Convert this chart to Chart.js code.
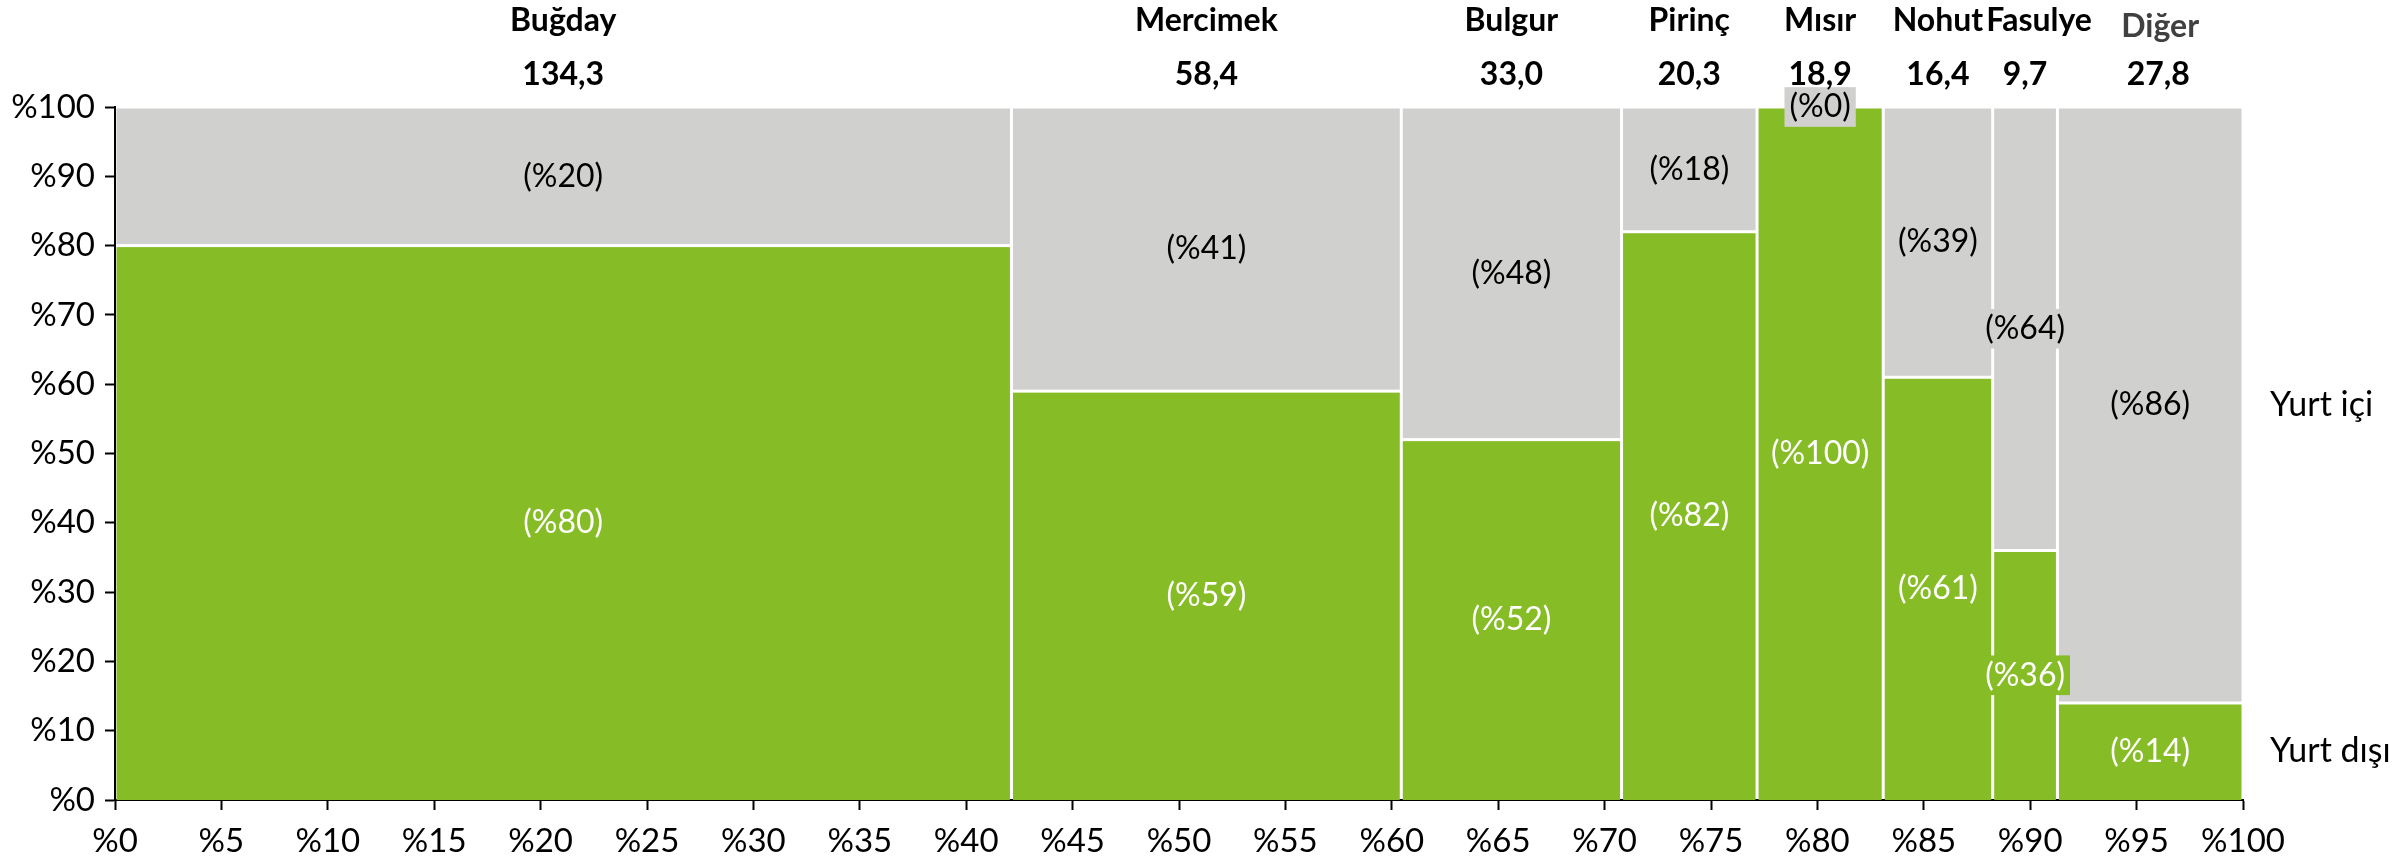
<!DOCTYPE html>
<html>
<head>
<meta charset="utf-8">
<script src="https://cdn.jsdelivr.net/npm/chart.js@4/dist/chart.umd.min.js"></script>
<style>
  html, body { margin: 0; padding: 0; background: #fff; }
  #wrap { width: 2400px; height: 858px; }
</style>
</head>
<body>
<div id="wrap"><canvas id="chartMekko" width="2400" height="858"></canvas></div>
<script>
const categories = ['Buğday', 'Mercimek', 'Bulgur', 'Pirinç', 'Mısır', 'Nohut', 'Fasulye', 'Diğer']
const totals = [134.3, 58.4, 33.0, 20.3, 18.9, 16.4, 9.7, 27.8]
const yurtDisi = [80, 59, 52, 82, 100, 61, 36, 14]
const yurtIci = [20, 41, 48, 18, 0, 39, 64, 86]
const seriesNames = ['Yurt dışı', 'Yurt içi']

const green = '#86BC25'
const grey = '#D0D0CE'
const fontFamily = "Lato, 'Open Sans', sans-serif"
const tickSize = 33
const labelSize = 32
const headSize = 32
const legendSize = 34

const fmtTotal = v => v.toFixed(1).replace('.', ',')

// small nudges so the crowded headers don't collide (Fasulye, Diğer)
const headNudge = [0, 0, 0, 0, 0, 0, 14, 10]

// marimekko blocks, drawn from the linear scales
const mekko = {
  id: 'mekko',
  beforeDatasetsDraw: chart => {
    const { ctx, scales: { x, y } } = chart
    const sum = totals.reduce((a, b) => a + b, 0)
    const gap = 1.5
    let cum = 0
    ctx.save()
    totals.forEach((t, i) => {
      const x0 = x.getPixelForValue(cum / sum * 100)
      const x1 = x.getPixelForValue((cum + t) / sum * 100)
      cum += t
      const segs = [
        { from: 0, to: yurtDisi[i], color: green },
        { from: yurtDisi[i], to: yurtDisi[i] + yurtIci[i], color: grey },
      ]
      segs.forEach(s => {
        if (s.to <= s.from) return
        const yTop = y.getPixelForValue(s.to)
        const yBot = y.getPixelForValue(s.from)
        ctx.fillStyle = s.color
        ctx.fillRect(x0 + gap, yTop + gap, x1 - x0 - gap * 2, yBot - yTop - gap * (s.from === 0 ? 1 : 2))
      })
    })
    ctx.restore()
  },
  afterDatasetsDraw: chart => {
    const { ctx, chartArea, scales: { x, y } } = chart
    const sum = totals.reduce((a, b) => a + b, 0)
    const last = categories.length - 1
    let cum = 0
    ctx.save()
    ctx.textAlign = 'center'
    ctx.textBaseline = 'middle'
    totals.forEach((t, i) => {
      const x0 = x.getPixelForValue(cum / sum * 100)
      const x1 = x.getPixelForValue((cum + t) / sum * 100)
      cum += t
      const cx = (x0 + x1) / 2
      const segs = [
        { from: 0, to: yurtDisi[i], color: green, text: '#fff', v: yurtDisi[i] },
        { from: yurtDisi[i], to: yurtDisi[i] + yurtIci[i], color: grey, text: '#000', v: yurtIci[i] },
      ]
      ctx.font = `${labelSize}px ${fontFamily}`
      segs.forEach(s => {
        const cy = y.getPixelForValue((s.from + s.to) / 2)
        const label = `(%${s.v})`
        const w = ctx.measureText(label).width
        ctx.fillStyle = s.color
        ctx.fillRect(cx - w / 2 - 5, cy - labelSize * 0.62, w + 10, labelSize * 1.24)
        ctx.fillStyle = s.text
        ctx.fillText(label, cx, cy)
      })
      // category name and total above the plot
      ctx.font = `bold ${headSize}px ${fontFamily}`
      ctx.fillStyle = i === last ? '#404040' : '#000'
      ctx.fillText(categories[i], cx + headNudge[i], chartArea.top - (i === last ? 80 : 86))
      ctx.fillStyle = '#000'
      ctx.fillText(fmtTotal(t), cx + (i === last ? 8 : 0), chartArea.top - 32)
    })
    // series names beside the last column
    ctx.font = `${legendSize}px ${fontFamily}`
    ctx.textAlign = 'left'
    ctx.fillStyle = '#000'
    ctx.fillText(seriesNames[0], chartArea.right + 27, y.getPixelForValue(yurtDisi[last] / 2))
    ctx.fillText(seriesNames[1], chartArea.right + 27, y.getPixelForValue(yurtDisi[last] + yurtIci[last] / 2))
    ctx.restore()
  },
}

Chart.defaults.font.family = fontFamily
Chart.defaults.font.size = tickSize
Chart.defaults.color = '#000'

const axis = {
  grid: {
    drawOnChartArea: false,
    drawTicks: true,
    tickLength: 10,
    tickWidth: 2,
    tickColor: '#000',
  },
  border: {
    display: true,
    color: '#000',
    width: 2,
  },
}

new Chart(document.getElementById('chartMekko'), {
  type: 'scatter',
  data: {
    datasets: seriesNames.map(name => ({ label: name, data: [], pointRadius: 0 })),
  },
  plugins: [mekko],
  options: {
    animation: false,
    responsive: false,
    events: [],
    layout: {
      padding: { top: 107, right: 157, bottom: 0, left: 0 },
    },
    plugins: {
      legend: { display: false },
      tooltip: { enabled: false },
    },
    scales: {
      x: {
        type: 'linear',
        min: 0,
        max: 100,
        ticks: {
          stepSize: 5,
          padding: 12,
          maxRotation: 0,
          autoSkip: false,
          callback: v => '%' + v,
        },
        afterFit: s => { s.height = 58 },
        ...axis,
      },
      y: {
        type: 'linear',
        min: 0,
        max: 100,
        ticks: {
          stepSize: 10,
          padding: 10,
          callback: v => '%' + v,
        },
        afterFit: s => { s.width = 115 },
        ...axis,
      },
    },
  },
})
</script>
</body>
</html>
